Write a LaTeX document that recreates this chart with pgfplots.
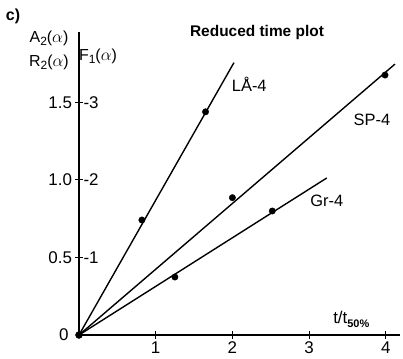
\documentclass[border=0pt]{standalone}
\usepackage{pgfplots}
\pgfplotsset{compat=1.18}
\usepackage{fontspec}
\setmainfont{Liberation Sans}
\begin{document}
\begin{tikzpicture}
\path[use as bounding box] (0,0) rectangle (403bp,359bp);
\begin{axis}[
 at={(79bp,24bp)}, anchor=south west,
 x=76.7bp, y=155bp,
 xmin=0, xmax=4.19, ymin=0, ymax=1.955,
 axis x line=bottom, axis y line=left,
 axis line style={-, line width=1.1bp},
 xtick={1,2,3,4}, ytick={0.5,1,1.5},
 yticklabels={0.5,1.0,1.5},
 tick align=center, major tick length=7bp,
 tick style={line width=1bp, black},
 ticklabel style={font=\fontsize{17}{20}\selectfont},
 /pgf/number format/assume math mode=true,
 clip=false,
]
\addplot[black, line width=1.4bp] coordinates {(0,0) (2.02,1.757)};
\addplot[black, line width=1.4bp] coordinates {(0,0) (4.12,1.748)};
\addplot[black, line width=1.4bp] coordinates {(0,0) (3.23,1.013)};
\addplot[only marks, mark=*, mark size=3.2bp, black] coordinates {(0.82,0.742) (1.65,1.44)};
\addplot[only marks, mark=*, mark size=3.2bp, black] coordinates {(2.0,0.886) (3.99,1.677)};
\addplot[only marks, mark=*, mark size=3.2bp, black] coordinates {(1.25,0.374) (2.52,0.80)};
\addplot[only marks, mark=*, mark size=3.5bp, black] coordinates {(0,0)};
\node[font=\fontsize{16.5}{19}\selectfont] at (axis cs:2.22,1.62) {LÅ-4};
\node[font=\fontsize{16.5}{19}\selectfont] at (axis cs:3.82,1.39) {SP-4};
\node[font=\fontsize{16.5}{19}\selectfont] at (axis cs:3.23,0.865) {Gr-4};
\node[right, font=\fontsize{17}{20}\selectfont, xshift=1bp] at (axis cs:0,1.5) {-3};
\node[right, font=\fontsize{17}{20}\selectfont, xshift=1bp] at (axis cs:0,1.0) {-2};
\node[right, font=\fontsize{17}{20}\selectfont, xshift=1bp] at (axis cs:0,0.5) {-1};
\node[left, font=\fontsize{17}{20}\selectfont, xshift=-7bp] at (axis cs:0,0) {0};
\node[font=\fontsize{17}{20}\selectfont] at (axis cs:3.55,0.1) {t/t\raisebox{-0.45ex}{\fontsize{11}{13}\selectfont\bfseries 50\%}};
\end{axis}
\node[font=\fontsize{15.5}{18}\selectfont\bfseries] at (257bp,326bp) {Reduced time plot};
\node[font=\fontsize{16}{19}\selectfont\bfseries] at (13bp,343bp) {c)};
\node[font=\fontsize{16}{19}\selectfont] at (49bp,321bp) {A\raisebox{-0.4ex}{\fontsize{12}{14}\selectfont 2}($\alpha$)};
\node[font=\fontsize{16}{19}\selectfont] at (49bp,297bp) {R\raisebox{-0.4ex}{\fontsize{12}{14}\selectfont 2}($\alpha$)};
\node[font=\fontsize{16}{19}\selectfont] at (98bp,303bp) {F\raisebox{-0.4ex}{\fontsize{12}{14}\selectfont 1}($\alpha$)};
\end{tikzpicture}
\end{document}
